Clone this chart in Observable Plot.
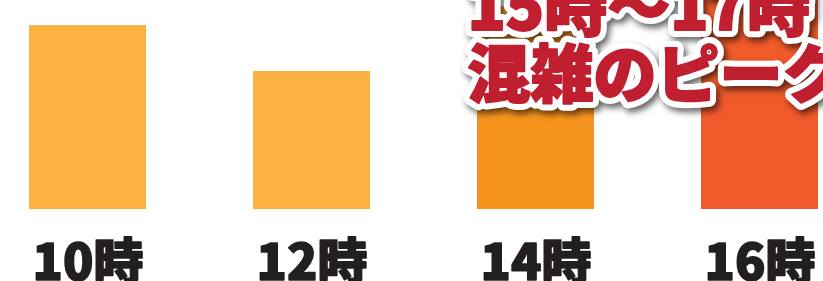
<!DOCTYPE html>
<html>
<head>
<meta charset="utf-8">
<script src="https://cdn.jsdelivr.net/npm/d3@7"></script>
<script src="https://cdn.jsdelivr.net/npm/@observablehq/plot@0.6"></script>
<style>
  html, body { margin: 0; padding: 0; background: #fff; overflow: hidden; }
  #chart svg { display: block; }
</style>
</head>
<body>
<div id="chart"></div>
<script>
// Data
const hours = ["10時", "12時", "14時", "16時"];
const values = [88, 66, 97, 100];
const colors = ["#FBB040", "#FBB040", "#F7941D", "#F15A2B"];
const annotationLines = ["15時〜17時", "混雑のピーク"];

const data = hours.map((h, i) => ({hour: h, value: values[i], color: colors[i]}));
const annotation = [annotationLines.join("\n")];

const textStyle = {
  frameAnchor: "top-left",
  text: d => d,
  textAnchor: "start",
  lineAnchor: "top",
  lineHeight: 1.05,
  dx: 439,
  dy: -17,
  fontSize: 63,
  fontWeight: 900
};

const chart = Plot.plot({
  width: 823,
  height: 281,
  marginTop: 0,
  marginBottom: 72,
  marginLeft: 28,
  marginRight: 4,
  style: {background: "#fff", fontFamily: "'Noto Sans CJK JP', sans-serif"},
  x: {domain: hours, paddingInner: 0.477, paddingOuter: 0, label: null},
  y: {domain: [0, 100], axis: null},
  marks: [
    Plot.barY(data, {x: "hour", y: "value", fill: "color"}),
    Plot.axisX({
      tickSize: 0,
      tickPadding: 35,
      fontSize: 50,
      fontWeight: 900,
      fill: "#231F20",
      textStroke: "#231F20",
      textStrokeWidth: 1.6,
      label: null
    }),
    // white outline (shadow added below)
    Plot.text(annotation, {
      ...textStyle,
      fill: "white",
      stroke: "white",
      strokeWidth: 14,
      strokeLinejoin: "round"
    }),
    // red heavy text
    Plot.text(annotation, {
      ...textStyle,
      fill: "#C01F30",
      stroke: "#C01F30",
      strokeWidth: 2,
      strokeLinejoin: "round"
    })
  ]
});

document.getElementById("chart").appendChild(chart);
const textGroups = d3.select(chart).selectAll('g[aria-label="text"]').nodes();
if (textGroups.length) {
  d3.select(textGroups[0]).style("filter", "drop-shadow(3px 4px 3px rgba(0,0,0,0.6))");
}
</script>
</body>
</html>
